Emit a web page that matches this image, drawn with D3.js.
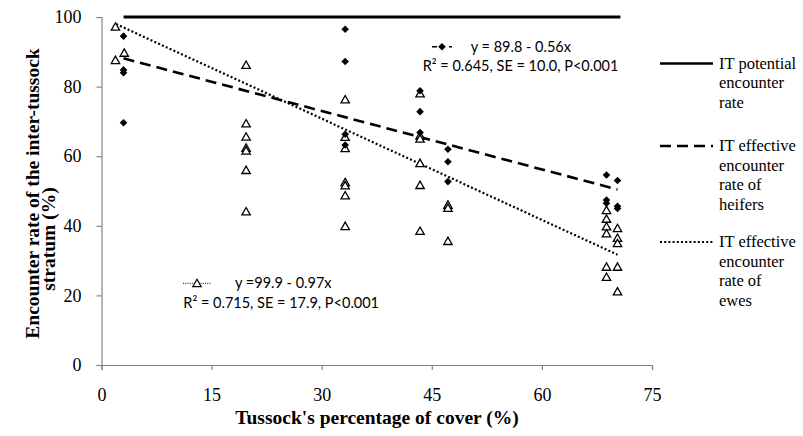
<!DOCTYPE html>
<html><head><meta charset="utf-8">
<script src="https://cdn.jsdelivr.net/npm/d3@7"></script>
<style>body{margin:0;background:#fff} svg{display:block}</style>
</head><body><svg id="chart" width="803" height="436"></svg>
<script>
// ---- data ----
const xTicks = [0, 15, 30, 45, 60, 75];
const yTicks = [0, 20, 40, 60, 80, 100];

const heifersX = [3, 3, 3, 3, 33.2, 33.2, 33.2, 33.2, 43.4, 43.4, 43.4, 47.2, 47.2, 47.2, 68.8, 68.8, 68.8, 70.3, 70.3, 70.3];
const heifersY = [94.5, 84.8, 84.0, 69.6, 96.5, 87.2, 66.3, 63.2, 78.8, 72.8, 66.8, 62.0, 58.4, 52.7, 54.6, 47.4, 46.5, 53.0, 45.6, 45.0];

const ewesX = [1.9, 1.9, 3.1,
  19.7, 19.7, 19.7, 19.7, 19.7, 19.7, 19.7,
  33.2, 33.2, 33.2, 33.2, 33.2, 33.2, 33.2,
  43.4, 43.4, 43.4, 43.4, 43.4, 43.4,
  47.2, 47.2, 47.2,
  68.8, 68.8, 68.8, 68.8, 68.8, 68.8,
  70.3, 70.3, 70.3, 70.3, 70.3];
const ewesY = [97.2, 87.6, 89.7,
  86.2, 69.4, 65.6, 62.4, 61.6, 56.0, 44.1,
  76.3, 65.5, 62.3, 52.5, 51.6, 48.7, 39.9,
  78.0, 65.9, 65.0, 58.0, 51.7, 38.5,
  46.0, 45.1, 35.6,
  44.5, 42.0, 39.8, 37.8, 28.2, 25.3,
  39.3, 36.5, 35.0, 28.2, 21.1];

const potentialX = [3, 70.7];
const potentialY = [100, 100];

const regIntercepts = [89.8, 99.9];
const regSlopes = [-0.56, -0.97];
const regXStart = [3, 2];
const regXEnd = [70.3, 70.3];

const legendLabels = [
  ["IT potential", "encounter", "rate"],
  ["IT effective", "encounter", "rate of", "heifers"],
  ["IT effective", "encounter", "rate of", "ewes"]
];
const eqHeifers = ["y = 89.8 - 0.56x", "R\u00B2 = 0.645, SE = 10.0, P<0.001"];
const eqEwes = ["y =99.9 - 0.97x", "R\u00B2 = 0.715, SE = 17.9, P<0.001"];
const xTitle = "Tussock's percentage of cover (%)";
const yTitle = ["Encounter rate of the inter-tussock", "stratum (%)"];

// ---- drawing ----
const svg = d3.select("#chart");
const x = d3.scaleLinear().domain([0, 75]).range([101.5, 652]);
const y = d3.scaleLinear().domain([0, 100]).range([365, 17]);
const serif = "'Liberation Serif', 'Times New Roman', serif";
const sans = "Lato, 'Open Sans', sans-serif";
const axisGray = "#868686";

// axes
const gx = svg.append("g").attr("transform", `translate(0,${y(0)})`)
  .call(d3.axisBottom(x).tickValues(xTicks).tickSize(5).tickPadding(18).tickFormat(d3.format("d")));
const gy = svg.append("g").attr("transform", `translate(${x(0)},0)`)
  .call(d3.axisLeft(y).tickValues(yTicks).tickSize(5).tickPadding(15).tickFormat(d3.format("d")));
[gx, gy].forEach(g => {
  g.select(".domain").attr("stroke", axisGray).attr("stroke-width", 1.2);
  g.selectAll(".tick line").attr("stroke", axisGray).attr("stroke-width", 1.2);
  g.selectAll(".tick text").attr("fill", "#000").style("font-family", serif).style("font-size", "18px");
});

// axis titles
svg.append("text").attr("x", 377).attr("y", 417).attr("dy", "0.35em")
  .attr("text-anchor", "middle").style("font-family", serif).style("font-weight", "bold")
  .style("font-size", "19.5px").text(xTitle);
const yt = [[31.7, 193.5], [48.5, 239]];
yTitle.forEach((t, i) => {
  svg.append("text").attr("transform", `translate(${yt[i][0]},${yt[i][1]}) rotate(-90)`)
    .attr("dy", "0.35em").attr("text-anchor", "middle").style("font-family", serif)
    .style("font-weight", "bold").style("font-size", "19.5px").text(t);
});

// potential line
const line = d3.line().x(d => x(d[0])).y(d => y(d[1]));
svg.append("path").datum(potentialX.map((v, i) => [v, potentialY[i]]))
  .attr("d", line).attr("stroke", "#000").attr("stroke-width", 3).attr("fill", "none");

// regression lines
const dashStyles = ["11,6", "2,2.2"];
const widths = [2.6, 2.2];
regIntercepts.forEach((b, i) => {
  const pts = [regXStart[i], regXEnd[i]].map(v => [v, b + regSlopes[i] * v]);
  svg.append("path").datum(pts).attr("d", line).attr("stroke", "#000")
    .attr("stroke-width", widths[i]).attr("stroke-dasharray", dashStyles[i]).attr("fill", "none");
});

// markers
const triPath = "M0,-4L4.2,3.4L-4.2,3.4Z";
const diaPath = "M0,-3.8L3.8,0L0,3.8L-3.8,0Z";
svg.append("g").selectAll("path").data(ewesX.map((v, i) => [v, ewesY[i]])).join("path")
  .attr("d", triPath).attr("transform", d => `translate(${x(d[0])},${y(d[1])})`)
  .attr("fill", "#fff").attr("stroke", "#000").attr("stroke-width", 1.3);
svg.append("g").selectAll("path").data(heifersX.map((v, i) => [v, heifersY[i]])).join("path")
  .attr("d", diaPath).attr("transform", d => `translate(${x(d[0])},${y(d[1])})`)
  .attr("fill", "#000");

// equation annotations
function eqBlock(lines, markerX0, markerX1, markerY, line1X, line2X, line2Y, dash, marker, mFill) {
  svg.append("line").attr("x1", markerX0).attr("x2", markerX1).attr("y1", markerY).attr("y2", markerY)
    .attr("stroke", "#000").attr("stroke-width", dash === "d" ? 1.6 : 1).attr("stroke-dasharray", dash === "d" ? "5,12,5,3" : "1,1.2");
  svg.append("path").attr("d", marker).attr("transform", `translate(${(markerX0 + markerX1) / 2},${markerY})`)
    .attr("fill", mFill).attr("stroke", "#000").attr("stroke-width", mFill === "#fff" ? 1.2 : 0);
  svg.append("text").attr("x", line1X).attr("y", markerY).attr("dy", "0.35em")
    .style("font-family", sans).style("font-size", "14.5px").text(lines[0]);
  svg.append("text").attr("x", line2X).attr("y", line2Y).attr("dy", "0.35em")
    .style("font-family", sans).style("font-size", "14.5px").text(lines[1]);
}
eqBlock(eqHeifers, 432, 452, 46.7, 470.7, 422.7, 66, "d", diaPath, "#000");
eqBlock(eqEwes, 183, 211, 283.3, 235, 183.3, 302.7, "o", triPath, "#fff");

// legend
const legY = [63.5, 146, 242];
const legDash = [null, "11,6", "2,2.2"];
const legW = [2.6, 2.6, 2.2];
legendLabels.forEach((lines, i) => {
  const l = svg.append("line").attr("x1", 660).attr("x2", 713).attr("y1", legY[i]).attr("y2", legY[i])
    .attr("stroke", "#000").attr("stroke-width", legW[i]);
  if (legDash[i]) l.attr("stroke-dasharray", legDash[i]);
  lines.forEach((t, j) => {
    svg.append("text").attr("x", 719).attr("y", legY[i] + j * 19.5).attr("dy", "0.33em")
      .style("font-family", serif).style("font-size", "16.5px").text(t);
  });
});
</script></body></html>
